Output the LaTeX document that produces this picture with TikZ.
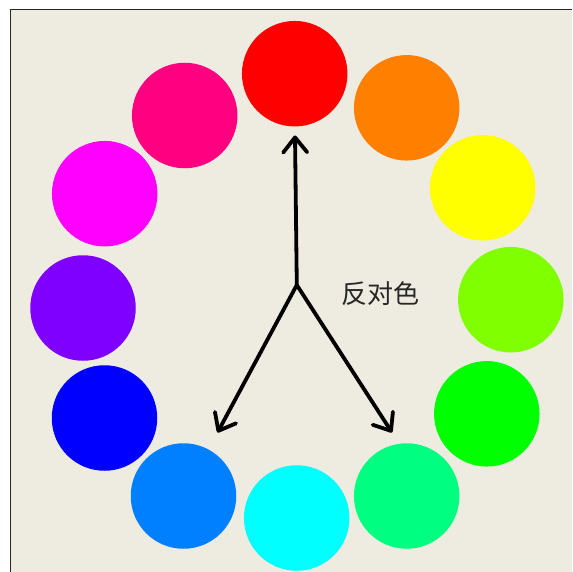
\documentclass[tikz,border=0pt]{standalone}
\usepackage{fontspec}
\newfontfamily\cjk{Noto Sans CJK SC}
\usetikzlibrary{arrows.meta}
\definecolor{bg}{HTML}{EEEBE1}
\definecolor{cRed}{HTML}{FF0000}
\definecolor{cOrange}{HTML}{FF8000}
\definecolor{cYellow}{HTML}{FFFF00}
\definecolor{cChart}{HTML}{80FF00}
\definecolor{cGreen}{HTML}{00FF00}
\definecolor{cSpring}{HTML}{00FF80}
\definecolor{cCyan}{HTML}{00FFFF}
\definecolor{cAzure}{HTML}{0080FF}
\definecolor{cBlue}{HTML}{0000FF}
\definecolor{cViolet}{HTML}{8000FF}
\definecolor{cMagenta}{HTML}{FF00FF}
\definecolor{cRose}{HTML}{FF0080}
\tikzset{
  hue/.style={circle, fill=#1, draw=none, minimum size=105.5pt, inner sep=0pt},
  ptr/.style={line width=3.8pt, black, line cap=round, line join=round,
    -{Straight Barb[length=15pt,width=24pt,line width=3.8pt,round]}},
}
\begin{document}
\begin{tikzpicture}[x=1pt,y=-1pt]
\useasboundingbox (0,0) rectangle (572,572);
\fill[white] (0,0) rectangle (572,572);
\fill[bg] (10.5,9.5) rectangle (572,572);
\draw[line width=1.5pt, black!85] (10.5,572) -- (10.5,9.5) -- (572,9.5);
\node[hue=cRed]     (red)    at (294.7,73.7) {};
\node[hue=cOrange]  (orange) at (406.7,107.8) {};
\node[hue=cYellow]  (yellow) at (482.7,187.8) {};
\node[hue=cChart]   (chart)  at (510.8,299.7) {};
\node[hue=cGreen]   (green)  at (486.8,413.8) {};
\node[hue=cSpring]  (spring) at (406.7,496) {};
\node[hue=cCyan]    (cyan)   at (296.7,518) {};
\node[hue=cAzure]   (azure)  at (183.5,496) {};
\node[hue=cBlue]    (blue)   at (104.5,418) {};
\node[hue=cViolet]  (violet) at (83,308) {};
\node[hue=cMagenta] (magenta) at (104.7,193.7) {};
\node[hue=cRose]    (rose)   at (184.7,115.5) {};
\coordinate (o) at (296.8,285);
\coordinate (tup) at (295,135.5);
\coordinate (tleft) at (217.5,432.5);
\coordinate (tright) at (392,432.5);
\draw[ptr] (o) -- (tup);
\draw[ptr] (o) -- (tleft);
\draw[ptr] (o) -- (tright);
\node[font=\cjk\fontsize{26pt}{26pt}\selectfont, text=black!85, inner sep=0pt] (lbl) at (380,294) {反对色};
\end{tikzpicture}
\end{document}
